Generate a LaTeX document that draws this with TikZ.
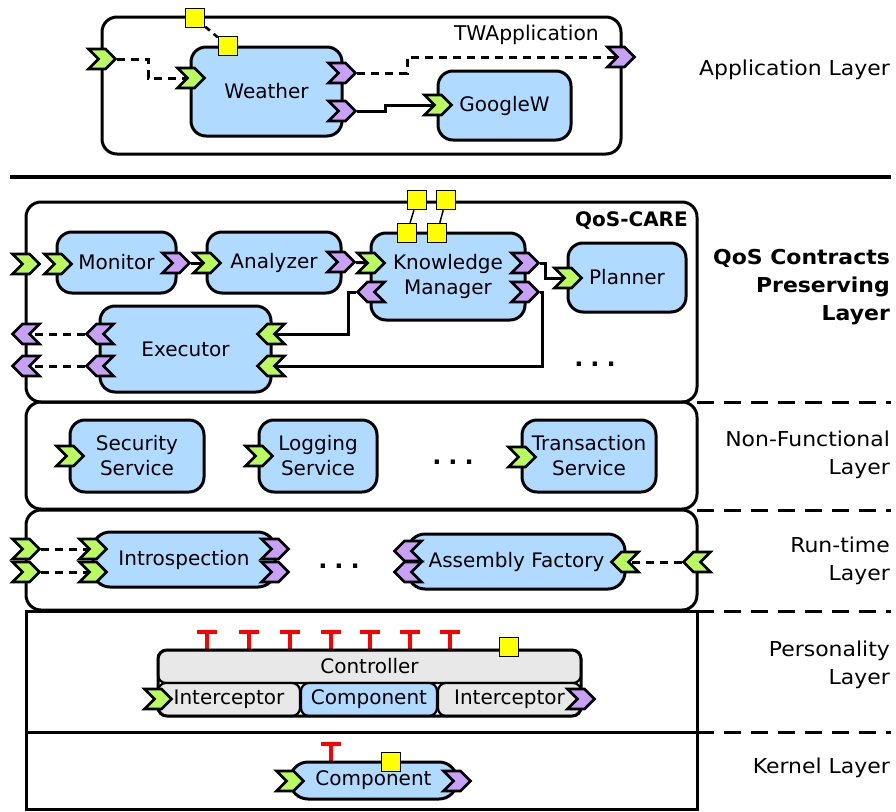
\documentclass[tikz,border=0pt]{standalone}
\usepackage{fontspec}
\setmainfont{DejaVu Sans}
\newfontfamily\widefont[FakeStretch=1.07]{DejaVu Sans}
\usetikzlibrary{shapes.symbols}
\pgfdeclarelayer{bg}
\pgfsetlayers{bg,main}
\definecolor{cblue}{RGB}{176,218,255}
\definecolor{pgreen}{RGB}{185,250,95}
\definecolor{ppurple}{RGB}{200,160,245}
\definecolor{cgrey}{RGB}{232,232,232}
\definecolor{cyel}{RGB}{255,255,0}
\tikzset{
 compbox/.style={draw, line width=3pt, rounded corners=15pt, fill=cblue, inner sep=0pt, font=\fontsize{20}{25}\selectfont, align=center},
 layerbox/.style={draw, line width=3pt},
 portbase/.style={shape=signal, signal pointer angle=90, draw, line width=2.6pt, minimum width=27pt, minimum height=20pt, inner sep=0pt},
 gR/.style={portbase, fill=pgreen, signal to=east, signal from=west},
 gL/.style={portbase, fill=pgreen, signal to=west, signal from=east},
 pR/.style={portbase, fill=ppurple, signal to=east, signal from=west},
 pL/.style={portbase, fill=ppurple, signal to=west, signal from=east},
 ysq/.style={draw, line width=1.5pt, fill=cyel, minimum size=19pt, inner sep=0pt},
 solidconn/.style={line width=3pt},
 dconn/.style={line width=3pt, dash pattern=on 8pt off 6pt},
 layersep/.style={line width=3pt, dash pattern=on 17pt off 10pt},
 lbl/.style={font=\widefont\fontsize{20.5}{28}\selectfont, align=right, anchor=east, inner sep=0pt},
 blbl/.style={font=\widefont\bfseries\fontsize{20.5}{28}\selectfont, align=right, anchor=east, inner sep=0pt},
 dotsnode/.style={font=\bfseries\fontsize{24}{24}\selectfont, inner sep=0pt},
 tsym/.style={red, line width=4.5pt},
 ctrlbox/.style={draw, line width=2.2pt, rounded corners=8pt, minimum height=33pt, inner sep=0pt, font=\fontsize{20}{24}\selectfont},
}
\begin{document}
\begin{tikzpicture}[x=1pt,y=-1pt]
\useasboundingbox (0,0) rectangle (896,811);

% ---------------- Application layer ----------------
\node[compbox, minimum width=151pt, minimum height=89pt] (weather) at (266.5,91.5) {Weather};
\node[compbox, minimum width=133pt, minimum height=69pt] (googlew) at (504.5,105.5) {GoogleW};
\node[anchor=east, inner sep=0pt, font=\fontsize{20.3}{24}\selectfont] (twlabel) at (599,35) {TWApplication};
\node[gR] (twin) at (102,59) {};
\node[gR] (win) at (191,78) {};
\node[pR] (wout1) at (342,73) {};
\node[pR] (wout2) at (342,111) {};
\node[pR] (twout) at (621,57) {};
\node[gR] (gin) at (438,105) {};
\node[ysq] (ytop) at (195,18) {};
\node[ysq] (yw) at (228,46) {};

\node[lbl] (applbl) at (890,70) {Application Layer};

% ---------------- QoS-CARE ----------------
\node[compbox, minimum width=119pt, minimum height=61pt] (monitor) at (116.5,262.5) {Monitor};
\node[compbox, minimum width=134pt, minimum height=61pt] (analyzer) at (274,262.5) {Analyzer};
\node[compbox, minimum width=154pt, minimum height=87pt] (km) at (448,276.5) {Knowledge\\Manager};
\node[compbox, minimum width=118pt, minimum height=69pt] (planner) at (627,277.5) {Planner};
\node[compbox, minimum width=171pt, minimum height=86pt] (executor) at (185.5,349) {Executor};
\node[anchor=east, inner sep=0pt, font=\bfseries\fontsize{20}{22}\selectfont] (qoslabel) at (688,221) {QoS-CARE};
\node[dotsnode] (qdots) at (595,364) {.\hspace{7pt}.\hspace{7pt}.};

\node[gR] (qin) at (26,264) {};
\node[gR] (min) at (58,264) {};
\node[pR] (mout) at (176,263) {};
\node[gR] (ain) at (207,263) {};
\node[pR] (aout) at (341,262) {};
\node[gR] (kin) at (371,263) {};
\node[pL] (kback) at (371,292) {};
\node[pR] (kout1) at (525,263) {};
\node[pR] (kout2) at (525,292) {};
\node[gR] (pin) at (568,278) {};
\node[pL] (eout1) at (100,334) {};
\node[pL] (eout2) at (100,366) {};
\node[gL] (ein1) at (271,334) {};
\node[gL] (ein2) at (271,366) {};
\node[pL] (qout1) at (26,334) {};
\node[pL] (qout2) at (26,366) {};
\node[ysq] (qy1) at (417,200) {};
\node[ysq] (qy2) at (446,200) {};
\node[ysq] (ky1) at (407,233) {};
\node[ysq] (ky2) at (437,233) {};

\node[blbl] (qoslbl) at (890,287) {QoS Contracts\\Preserving\\Layer};

% ---------------- Non-functional ----------------
\node[compbox, minimum width=134pt, minimum height=72pt] (security) at (137,456) {Security\\Service};
\node[compbox, minimum width=118pt, minimum height=72pt] (logging) at (318,456) {Logging\\Service};
\node[compbox, minimum width=134pt, minimum height=72pt] (transaction) at (589,456) {Transaction\\Service};
\node[dotsnode] (nfdots) at (453,462) {.\hspace{7pt}.\hspace{7pt}.};
\node[gR] (sin) at (70,456) {};
\node[gR] (lin) at (259,456) {};
\node[gR] (tin) at (522,457) {};
\node[lbl] (nflbl) at (890,455) {Non-Functional\\Layer};

% ---------------- Run-time ----------------
\node[compbox, minimum width=182pt, minimum height=55pt, rounded corners=17pt] (intro) at (184,559.5) {Introspection};
\node[compbox, minimum width=217pt, minimum height=55pt, rounded corners=17pt] (assembly) at (516.5,561.5) {Assembly Factory};
\node[dotsnode] (rtdots) at (339,566) {.\hspace{7pt}.\hspace{7pt}.};
\node[gR] (rin1) at (26,549) {};
\node[gR] (rin2) at (26,572) {};
\node[gR] (iin1) at (93,549) {};
\node[gR] (iin2) at (93,572) {};
\node[pR] (iout1) at (275,549) {};
\node[pR] (iout2) at (275,572) {};
\node[pL] (af1) at (408,551) {};
\node[pL] (af2) at (408,572) {};
\node[gL] (afin) at (625,562) {};
\node[gL] (rtin) at (697,562) {};
\node[lbl] (rtlbl) at (890,561) {Run-time\\Layer};

% ---------------- Personality ----------------
\foreach \tx in {207,249,290,331,370,410,450}
  \draw[tsym] (\tx-10,632) -- (\tx+10,632) (\tx,632) -- (\tx,650);
\node[ctrlbox, fill=cgrey, minimum width=423pt] (ctrl) at (369.5,666.5) {Controller};
\node[ctrlbox, fill=cgrey, minimum width=142pt] (intl) at (229,699.5) {Interceptor};
\node[ctrlbox, fill=cblue, minimum width=136pt] (compp) at (369,699.5) {Component};
\node[ctrlbox, fill=cgrey, minimum width=143pt] (intr) at (509.5,699.5) {Interceptor};
\draw[line width=3pt, rounded corners=9pt] (158,650) rectangle (581,716);
\node[gR] (ciin) at (158,699) {};
\node[pR] (ciout) at (581,699) {};
\node[ysq] (py) at (509,647) {};
\node[lbl] (perslbl) at (890,665) {Personality\\Layer};

% ---------------- Kernel ----------------
\draw[tsym] (321,744) -- (341,744) (331,744) -- (331,762);
\node[compbox, minimum width=167pt, minimum height=37pt, rounded corners=18pt] (kcomp) at (373.5,780.5) {Component};
\node[gR] (kcin) at (290,781) {};
\node[pR] (kcout) at (457,781) {};
\node[ysq] (ky) at (391,762) {};
\node[lbl] (kerlbl) at (890,768) {Kernel Layer};

% ---------------- background: frames and connectors ----------------
\begin{pgfonlayer}{bg}
  \draw[layerbox, rounded corners=15pt] (102,17) rectangle (621,154);
  \draw[line width=4.5pt] (10,177) -- (891,177);
  \draw[layerbox, rounded corners=15pt] (26,202) rectangle (697,402);
  \draw[layerbox, rounded corners=15pt] (26,402) rectangle (697,509);
  \draw[layerbox, rounded corners=15pt] (26,510) rectangle (697,610);
  \draw[layerbox] (26,611) rectangle (697,732);
  \draw[layerbox] (26,732) rectangle (697,809);
  \foreach \sy in {402,510,611,732}
    \draw[layersep] (697,\sy) -- (891,\sy);

  % application connectors
  \draw[line width=2.6pt, dash pattern=on 6pt off 5pt] (ytop) -- (yw);
  \draw[dconn] (twin) -- ++(46,0) |- (win);
  \draw[dconn] (wout1) -- ++(65,0) |- (twout);
  \draw[solidconn] (wout2) -- ++(43,0) |- (gin);

  % QoS-CARE connectors
  \draw[solidconn] (mout) -- (ain);
  \draw[solidconn] (aout) -- (kin);
  \draw[solidconn] (kout1) -- ++(20,0) |- (pin);
  \draw[solidconn] (ein1) -- ++(77,0) |- (kback);
  \draw[solidconn] (kout2) -- ++(17,0) |- (ein2);
  \draw[dconn] (eout1) -- (qout1);
  \draw[dconn] (eout2) -- (qout2);
  \draw[line width=1.5pt] (qy1) -- (ky1);
  \draw[line width=1.5pt] (qy2) -- (ky2);

  % run-time connectors
  \draw[dconn] (rin1) -- (iin1);
  \draw[dconn] (rin2) -- (iin2);
  \draw[dconn] (rtin) -- (afin);
\end{pgfonlayer}
\end{tikzpicture}
\end{document}
